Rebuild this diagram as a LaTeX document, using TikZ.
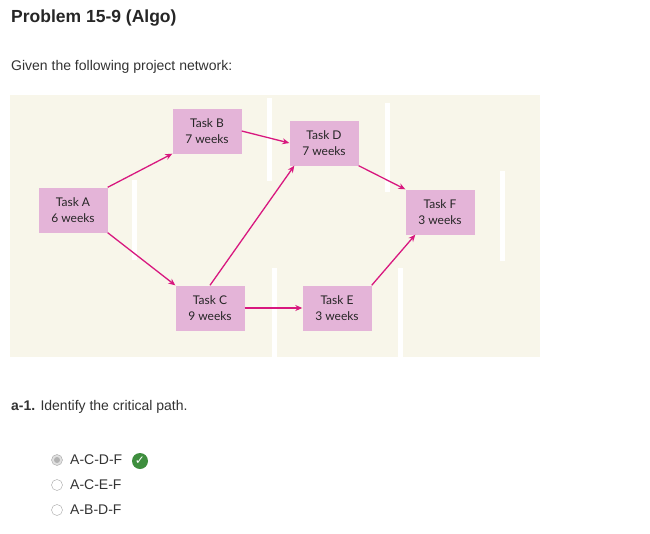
\documentclass[tikz,border=0pt]{standalone}
\usepackage{fontspec}
\setmainfont{Liberation Sans}
\newfontfamily\nodefont{Lato}
\newfontfamily\symfont{DejaVu Sans}
\usetikzlibrary{arrows.meta}
\definecolor{bgc}{HTML}{F8F6EA}
\definecolor{boxc}{HTML}{E4B4D8}
\definecolor{arr}{HTML}{D8187F}
\definecolor{txt}{HTML}{333333}
\definecolor{okc}{HTML}{3E8E3E}
\tikzset{
  task/.style={fill=boxc, minimum width=69pt, minimum height=45pt, align=center, font=\nodefont\fontsize{12}{16}\selectfont, text=black!85},
  link/.style={draw=arr, line width=1.3pt, -{Stealth[length=7pt,width=6pt]}},
  bar/.style={fill=white, draw=none},
  radio/.style={circle, draw=black!35, fill=white, minimum size=11pt, inner sep=0pt},
  body/.style={anchor=west, text=txt, font=\fontsize{14}{16}\selectfont, inner sep=0pt}
}
\begin{document}
\begin{tikzpicture}[x=1pt,y=-1pt]
\useasboundingbox (0,0) rectangle (650,533);
\fill[white] (0,0) rectangle (650,533);
\node[anchor=west, inner sep=0pt, font=\bfseries\fontsize{17.5}{20}\selectfont, text=black!85] (title) at (11,18) {Problem 15-9 (Algo)};
\node[body] (given) at (11,67) {Given the following project network:};
\fill[bgc] (10,95) rectangle (540,357);
\fill[bar] (267,98) rectangle (272,181);
\fill[bar] (132,180) rectangle (137,260);
\fill[bar] (385,103) rectangle (390,192);
\fill[bar] (500,171) rectangle (505,261);
\fill[bar] (272,268) rectangle (277,357);
\fill[bar] (398,268) rectangle (403,357);
\node[task] (A) at (73,210) {Task A\\6 weeks};
\node[task] (B) at (207,131) {Task B\\7 weeks};
\node[task] (D) at (324,143) {Task D\\7 weeks};
\node[task] (F) at (440,212) {Task F\\3 weeks};
\node[task] (C) at (210,308) {Task C\\9 weeks};
\node[task] (E) at (337,308) {Task E\\3 weeks};
\draw[link] (A.north east) -- (B.south west);
\draw[link] (A.south east) -- (C.north west);
\draw[link] (B.east) -- (D.west);
\draw[link] (C.north) -- ([xshift=5pt]D.south west);
\draw[link] (C.east) -- (E.west);
\draw[link] (D.south east) -- (F.north west);
\draw[link] (E.north east) -- ([xshift=10pt]F.south west);
\node[body] (q) at (11,407) {\textbf{a-1.} Identify the critical path.};
\node[radio, fill=black!12] (r1) at (57,460) {};
\fill[black!30] (r1) circle (3pt);
\node[body] (o1) at (70,460) {A-C-D-F};
\node[circle, fill=okc, minimum size=16pt, inner sep=0pt, text=white, font=\symfont\bfseries\fontsize{12}{12}\selectfont] (ok) at (140,461) {✓};
\node[radio] (r2) at (57,485) {};
\node[body] (o2) at (70,485) {A-C-E-F};
\node[radio] (r3) at (57,510) {};
\node[body] (o3) at (70,510) {A-B-D-F};
\end{tikzpicture}
\end{document}
